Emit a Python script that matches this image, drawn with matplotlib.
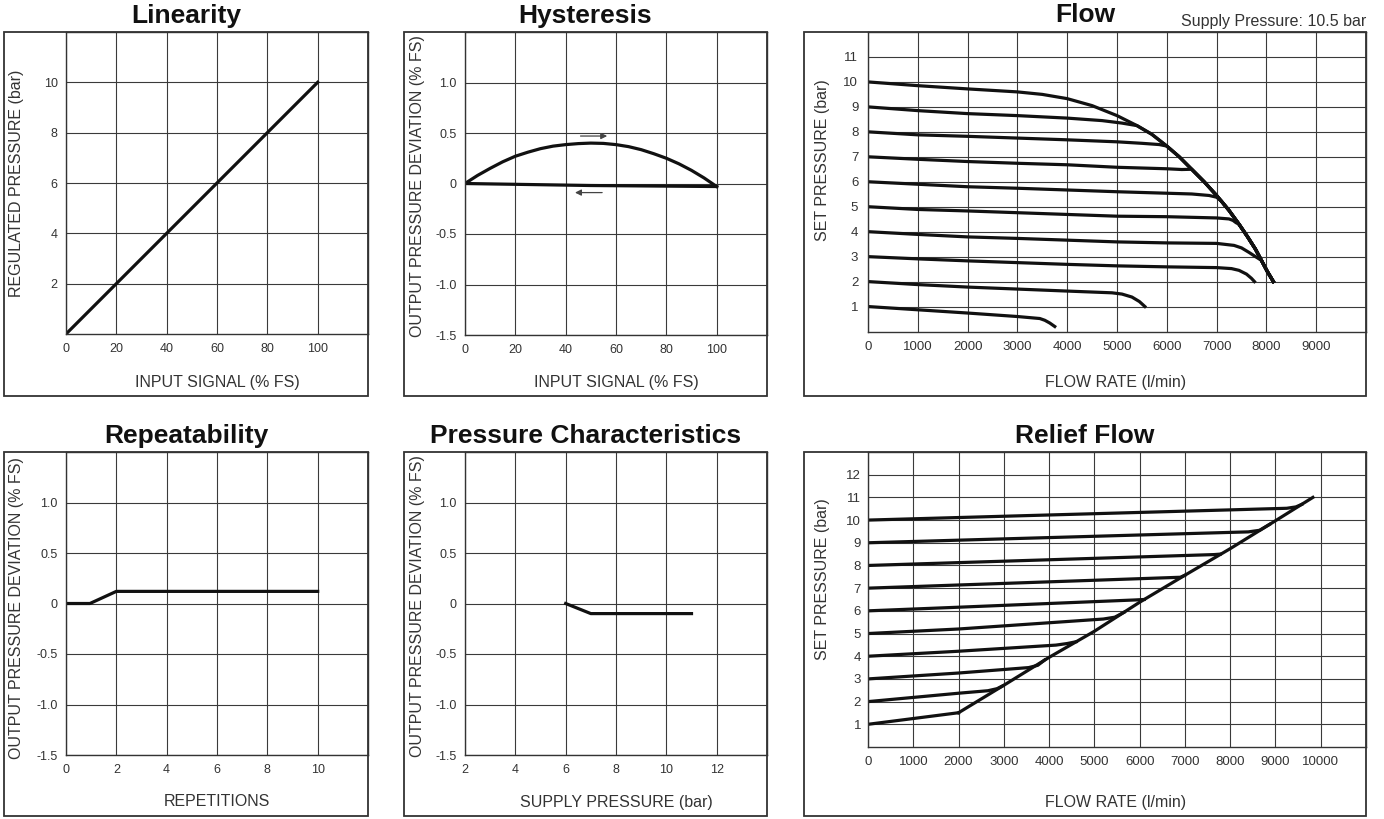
import matplotlib
matplotlib.use("Agg")
import matplotlib.pyplot as plt
from matplotlib.patches import Rectangle

plt.rcParams['font.family'] = ['Liberation Sans', 'DejaVu Sans']

# ---- data ----
lin_x = [0, 100]
lin_y = [0, 10]

hys_up_x = [0, 5, 10, 15, 20, 25, 30, 35, 40, 45, 50, 55, 60, 65, 70, 75, 80, 85, 90, 95, 100]
hys_up_y = [0, 0.08, 0.15, 0.215, 0.27, 0.31, 0.345, 0.37, 0.385, 0.395, 0.40, 0.397, 0.385,
            0.365, 0.335, 0.295, 0.25, 0.195, 0.13, 0.055, -0.03]
hys_down_x = [100, 50, 0]
hys_down_y = [-0.03, -0.02, 0]

# Flow: common limit curve (supply 10.5 bar) and the set-pressure curves that run into it
flow_env_x = [3500, 4000, 4500, 5000, 5400, 5700, 6000, 6250, 6500, 6750, 7000, 7250, 7450,
              7620, 7780, 7900, 8020, 8140]
flow_env_y = [9.5, 9.33, 9.05, 8.65, 8.25, 7.9, 7.43, 7.0, 6.5, 6.0, 5.45, 4.85, 4.3,
              3.8, 3.3, 2.85, 2.4, 2.0]
flow_x = [
    [0, 1000, 2000, 3000, 3450, 3550, 3650, 3750],
    [0, 1000, 2000, 3000, 4000, 4900, 5100, 5300, 5450, 5560],
    [0, 1000, 2000, 3000, 4000, 5000, 6000, 7000, 7300, 7450, 7600, 7700, 7760],
    [0, 1000, 2000, 3000, 4000, 5000, 6000, 7000, 7350, 7500, 7650, 7780],
    [0, 1000, 2000, 3000, 4000, 5000, 6000, 7000, 7250, 7330, 7390],
    [0, 1000, 2000, 3000, 4000, 5000, 6000, 6500, 6850, 7000, 7100],
    [0, 1000, 2000, 3000, 4000, 5000, 6000, 6300],
    [0, 1000, 2000, 3000, 4000, 5000, 5500, 5850],
    [0, 1000, 2000, 3000, 4000, 4700, 5100],
    [0, 1000, 2000, 3000],
]
flow_y = [
    [1, 0.87, 0.74, 0.6, 0.52, 0.45, 0.34, 0.2],
    [2, 1.88, 1.78, 1.70, 1.62, 1.55, 1.5, 1.38, 1.2, 1.0],
    [3, 2.91, 2.83, 2.76, 2.69, 2.63, 2.59, 2.56, 2.52, 2.45, 2.3, 2.13, 2.0],
    [4, 3.89, 3.79, 3.73, 3.66, 3.59, 3.55, 3.53, 3.45, 3.35, 3.17, 3.0],
    [5, 4.89, 4.83, 4.76, 4.69, 4.62, 4.60, 4.55, 4.51, 4.45, 4.36],
    [6, 5.90, 5.80, 5.74, 5.67, 5.60, 5.54, 5.51, 5.45, 5.38, 5.22],
    [7, 6.90, 6.81, 6.74, 6.68, 6.58, 6.52, 6.49],
    [8, 7.88, 7.82, 7.75, 7.68, 7.60, 7.54, 7.49],
    [9, 8.85, 8.73, 8.65, 8.55, 8.45, 8.35],
    [10, 9.85, 9.72, 9.60],
]
flow_join = [None, None, None, 7900, 7450, 7250, 6500, 6000, 5400, 3500]

rep_x = [0, 0.95, 2, 10]
rep_y = [0, 0, 0.12, 0.12]

pc_x = [6, 7, 11]
pc_y = [0, -0.1, -0.1]

relief_env_x = [2000, 3000, 4000, 5000, 6000, 7000, 8000, 9000, 9827]
relief_env_y = [1.51, 2.72, 3.95, 5.1, 6.38, 7.57, 8.74, 9.97, 11.0]
relief_x = [
    [0, 2000],
    [0, 2000, 2650, 2850, 2980],
    [0, 2000, 3550, 3750, 3900],
    [0, 2000, 4150, 4400, 4600],
    [0, 2000, 5200, 5450, 5660],
    [0, 2000, 5900, 6100],
    [0, 6900, 7000],
    [0, 7650, 7780],
    [0, 8400, 8650, 8870],
    [0, 9250, 9450, 9580],
]
relief_y = [
    [1.0, 1.51],
    [2.0, 2.37, 2.48, 2.57, 2.7],
    [3.0, 3.26, 3.5, 3.6, 3.83],
    [4.0, 4.22, 4.49, 4.56, 4.64],
    [5.0, 5.2, 5.64, 5.72, 5.94],
    [6.0, 6.16, 6.48, 6.5],
    [7.0, 7.48, 7.57],
    [8.0, 8.48, 8.5],
    [9.0, 9.48, 9.55, 9.81],
    [10.0, 10.52, 10.58, 10.69],
]

# ---- layout helpers (pixel based) ----
W, H = 1384, 819
fig = plt.figure(figsize=(W / 100, H / 100), dpi=100)
fig.patch.set_facecolor('white')

GRID = '#3a3a3a'
TXT = '#333333'
INK = '#111111'
LW = 2.3


def fx(px):
    return px / W


def fy(py):
    return 1 - py / H


def panel(box, ax_left, ax_bottom, title, title_base, xlab, xlab_pos, ylab, ylab_pos,
          ypad=6, tsize=9):
    l, t, r, b = box
    fig.add_artist(Rectangle((fx(l), fy(b)), fx(r - l), (b - t) / H,
                             transform=fig.transFigure, fill=False,
                             ec='#333333', lw=1.3, zorder=5))
    fig.text(fx((l + r) / 2), fy(title_base), title, ha='center', va='baseline',
             fontsize=19, fontweight='bold', color=INK)
    ax = fig.add_axes([fx(ax_left), fy(ax_bottom), fx(r - ax_left), (ax_bottom - t) / H])
    ax.set_axisbelow(True)
    ax.grid(True, color=GRID, lw=0.8)
    for s in ax.spines.values():
        s.set_color('#333333')
        s.set_linewidth(1.0)
    ax.tick_params(length=0, labelsize=tsize, labelcolor=TXT)
    ax.tick_params(axis='x', pad=6.5)
    ax.tick_params(axis='y', pad=ypad)
    ax.set_xlabel(xlab, fontsize=11.5, color=TXT, va='center', ha='center')
    ax.xaxis.set_label_coords(fx(xlab_pos[0]), fy(xlab_pos[1]), transform=fig.transFigure)
    ax.set_ylabel(ylab, fontsize=11.5, color=TXT, va='center', ha='center')
    ax.yaxis.set_label_coords(fx(ylab_pos[0]), fy(ylab_pos[1]), transform=fig.transFigure)
    return ax


dev_ticks = [-1.5, -1.0, -0.5, 0, 0.5, 1.0]
dev_labels = ['-1.5', '-1.0', '-0.5', '0', '0.5', '1.0']

# Linearity
ax = panel((4, 32, 368, 396), 66, 334, 'Linearity', 22.5,
           'INPUT SIGNAL (% FS)', (217, 383), 'REGULATED PRESSURE (bar)', (17, 183))
ax.plot(lin_x, lin_y, color=INK, lw=LW)
ax.set_xlim(0, 120)
ax.set_ylim(0, 12)
ax.set_xticks([0, 20, 40, 60, 80, 100])
ax.set_yticks([2, 4, 6, 8, 10])

# Hysteresis
ax = panel((404, 32, 767, 396), 465, 335, 'Hysteresis', 22.5,
           'INPUT SIGNAL (% FS)', (616, 383), 'OUTPUT PRESSURE DEVIATION (% FS)', (418, 186))
ax.plot(hys_up_x, hys_up_y, color=INK, lw=LW)
ax.plot(hys_down_x, hys_down_y, color=INK, lw=LW)
ax.annotate('', xy=(57.6, 0.47), xytext=(44.8, 0.47),
            arrowprops=dict(arrowstyle='-|>', color='#444444', lw=0.9, mutation_scale=9))
ax.annotate('', xy=(42.6, -0.09), xytext=(55.6, -0.09),
            arrowprops=dict(arrowstyle='-|>', color='#444444', lw=0.9, mutation_scale=9))
ax.set_xlim(0, 120)
ax.set_ylim(-1.5, 1.5)
ax.set_xticks([0, 20, 40, 60, 80, 100])
ax.set_yticks(dev_ticks, dev_labels)

# Flow
ax = panel((804, 32, 1366, 396), 868, 331.5, 'Flow', 22.5,
           'FLOW RATE (l/min)', (1116, 383), 'SET PRESSURE (bar)', (822, 160),
           ypad=7, tsize=9.5)
for xs, ys, j in zip(flow_x, flow_y, flow_join):
    xs, ys = list(xs), list(ys)
    if j is not None:
        k = flow_env_x.index(j)
        xs += flow_env_x[k:]
        ys += flow_env_y[k:]
    ax.plot(xs, ys, color=INK, lw=LW, solid_joinstyle='round')
ax.set_xlim(0, 10000)
ax.set_ylim(0, 12)
ax.set_xticks(range(0, 10000, 1000))
ax.set_yticks(range(1, 12))
fig.text(fx(1366), fy(26), 'Supply Pressure: 10.5 bar', ha='right', va='baseline',
         fontsize=11.5, color=TXT)

# Repeatability
ax = panel((4, 452, 368, 816), 66, 755, 'Repeatability', 443,
           'REPETITIONS', (217, 802), 'OUTPUT PRESSURE DEVIATION (% FS)', (17, 608))
ax.plot(rep_x, rep_y, color=INK, lw=LW)
ax.set_xlim(0, 12)
ax.set_ylim(-1.5, 1.5)
ax.set_xticks([0, 2, 4, 6, 8, 10])
ax.set_yticks(dev_ticks, dev_labels)

# Pressure Characteristics
ax = panel((404, 452, 767, 816), 465, 755, 'Pressure Characteristics', 443,
           'SUPPLY PRESSURE (bar)', (616, 802), 'OUTPUT PRESSURE DEVIATION (% FS)', (418, 606))
ax.plot(pc_x, pc_y, color=INK, lw=LW)
ax.set_xlim(2, 14)
ax.set_ylim(-1.5, 1.5)
ax.set_xticks([2, 4, 6, 8, 10, 12])
ax.set_yticks(dev_ticks, dev_labels)

# Relief Flow
ax = panel((804, 452, 1366, 816), 868, 747, 'Relief Flow', 443,
           'FLOW RATE (l/min)', (1116, 803), 'SET PRESSURE (bar)', (822, 579),
           ypad=5, tsize=9.5)
ax.plot(relief_env_x, relief_env_y, color=INK, lw=LW, solid_joinstyle='round')
for xs, ys in zip(relief_x, relief_y):
    ax.plot(xs, ys, color=INK, lw=LW, solid_joinstyle='round')
ax.set_xlim(0, 11000)
ax.set_ylim(0, 13)
ax.set_xticks(range(0, 11000, 1000))
ax.set_yticks(range(1, 13))

fig.savefig('out.png', dpi=100)
